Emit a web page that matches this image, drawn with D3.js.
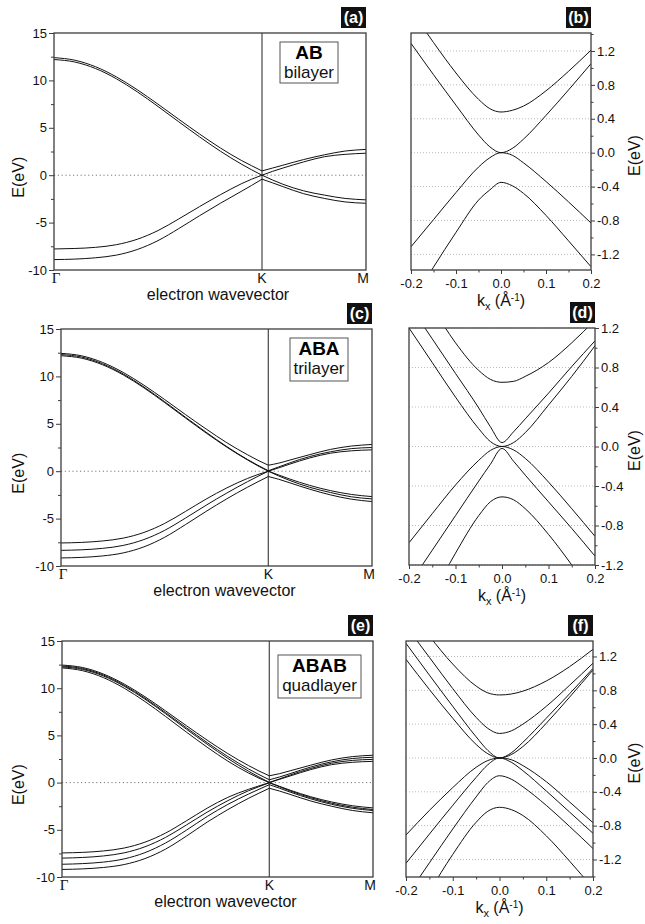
<!DOCTYPE html>
<html><head><meta charset="utf-8">
<script src="https://cdn.jsdelivr.net/npm/d3@7"></script>
<style>body{margin:0;background:#fff}svg{display:block}</style>
</head><body><svg id="c" width="645" height="924"></svg>
<script>
// ---------------- DATA ----------------
// Left panels: path Γ(0) – K(1) – M(1.5)
const tGK = [0, 0.1, 0.2, 0.3, 0.4, 0.5, 0.6, 0.7, 0.8, 0.9, 0.95, 1.0];
const tKM = [1.0, 1.05, 1.1, 1.2, 1.3, 1.4, 1.5];
const pathLabels = ["Γ", "K", "M"];
const pathLabelPos = [0, 1, 1.5];
const energyTicksLeft = [-10, -5, 0, 5, 10, 15];
const energyMinorLeft = [-7.5, -2.5, 2.5, 7.5, 12.5];

// AB bilayer (a)
const abGK = [
  [12.4, 12.13, 11.44, 10.37, 9.02, 7.49, 5.9, 4.34, 2.87, 1.57, 1.0, 0.45],
  [12.2, 11.94, 11.25, 10.17, 8.8, 7.25, 5.63, 4.04, 2.53, 1.18, 0.57, 0.0],
  [-7.78, -7.73, -7.61, -7.33, -6.76, -5.84, -4.61, -3.31, -2.06, -0.91, -0.42, 0.0],
  [-8.9, -8.85, -8.71, -8.43, -7.84, -6.9, -5.63, -4.27, -2.96, -1.71, -1.08, -0.42]
];
const abKM = [
  [0.45, 0.75, 1.05, 1.65, 2.15, 2.55, 2.72],
  [0.0, 0.4, 0.75, 1.4, 1.95, 2.2, 2.32],
  [0.0, -0.5, -0.95, -1.65, -2.1, -2.45, -2.6],
  [-0.42, -0.8, -1.2, -1.95, -2.45, -2.82, -2.96]
];
// ABA trilayer (c)
const abaGK = [
  [12.43, 12.17, 11.48, 10.42, 9.07, 7.56, 5.98, 4.45, 3.0, 1.73, 1.15, 0.63],
  [12.3, 12.04, 11.34, 10.26, 8.88, 7.33, 5.7, 4.11, 2.59, 1.23, 0.62, 0.05],
  [12.18, 11.92, 11.23, 10.16, 8.79, 7.24, 5.62, 4.03, 2.53, 1.18, 0.56, 0.0],
  [-7.57, -7.51, -7.36, -7.06, -6.46, -5.51, -4.25, -2.94, -1.76, -0.76, -0.35, 0.0],
  [-8.35, -8.29, -8.14, -7.83, -7.21, -6.24, -4.95, -3.59, -2.3, -1.1, -0.54, 0.0],
  [-9.15, -9.09, -8.94, -8.62, -7.98, -6.97, -5.64, -4.24, -2.91, -1.68, -1.11, -0.56]
];
const abaKM = [
  [0.63, 0.85, 1.15, 1.75, 2.3, 2.65, 2.82],
  [0.05, 0.45, 0.85, 1.55, 2.05, 2.38, 2.5],
  [0.0, 0.35, 0.72, 1.4, 1.9, 2.15, 2.25],
  [0.0, -0.4, -0.8, -1.5, -2.05, -2.45, -2.68],
  [0.0, -0.5, -0.95, -1.7, -2.25, -2.7, -2.92],
  [-0.56, -0.85, -1.2, -1.9, -2.5, -2.95, -3.2]
];
// ABAB quadlayer (e)
const ababGK = [
  [12.45, 12.19, 11.5, 10.44, 9.1, 7.59, 6.03, 4.5, 3.07, 1.8, 1.23, 0.72],
  [12.35, 12.08, 11.39, 10.31, 8.95, 7.41, 5.81, 4.24, 2.76, 1.44, 0.85, 0.3],
  [12.25, 11.99, 11.29, 10.21, 8.84, 7.29, 5.66, 4.07, 2.56, 1.2, 0.59, 0.02],
  [12.15, 11.85, 11.12, 10.0, 8.59, 7.0, 5.35, 3.75, 2.27, 1.01, 0.47, 0.0],
  [-7.45, -7.39, -7.24, -6.93, -6.31, -5.34, -4.05, -2.71, -1.56, -0.71, -0.35, 0.0],
  [-8.0, -7.93, -7.77, -7.44, -6.8, -5.8, -4.49, -3.13, -1.91, -0.86, -0.43, -0.02],
  [-8.65, -8.58, -8.42, -8.08, -7.42, -6.39, -5.04, -3.59, -2.31, -1.21, -0.71, -0.22],
  [-9.2, -9.14, -8.99, -8.68, -8.05, -7.04, -5.67, -4.19, -2.86, -1.66, -1.12, -0.6]
];
const ababKM = [
  [0.72, 0.95, 1.25, 1.85, 2.4, 2.75, 2.9],
  [0.3, 0.6, 0.95, 1.65, 2.2, 2.55, 2.68],
  [0.02, 0.4, 0.8, 1.5, 2.05, 2.35, 2.46],
  [0.0, 0.35, 0.7, 1.38, 1.9, 2.15, 2.25],
  [0.0, -0.4, -0.8, -1.5, -2.05, -2.45, -2.68],
  [-0.02, -0.45, -0.88, -1.6, -2.18, -2.6, -2.85],
  [-0.22, -0.6, -1.0, -1.72, -2.3, -2.72, -2.96],
  [-0.6, -0.9, -1.25, -1.95, -2.5, -2.95, -3.2]
];

// Right panels: kx around K (Å^-1)
const kGrid = [-0.2, -0.15, -0.1, -0.05, -0.025, 0, 0.025, 0.05, 0.1, 0.15, 0.2];
const kTicks = [-0.2, -0.1, 0, 0.1, 0.2];
const kMinor = [-0.15, -0.05, 0.05, 0.15];
const eTicksRight = [-1.2, -0.8, -0.4, 0, 0.4, 0.8, 1.2];
const eMinorRight = [-1.4, -1.0, -0.6, -0.2, 0.2, 0.6, 1.0, 1.4];

const abZoom = [
  [1.68, 1.30, 0.94, 0.63, 0.52, 0.48, 0.50, 0.55, 0.73, 0.96, 1.21],
  [1.29, 0.92, 0.56, 0.21, 0.07, 0.0, 0.05, 0.16, 0.44, 0.74, 1.05],
  [-1.11, -0.79, -0.47, -0.17, -0.06, 0.0, -0.03, -0.12, -0.34, -0.58, -0.83],
  [-1.78, -1.35, -0.94, -0.56, -0.44, -0.35, -0.39, -0.48, -0.74, -1.04, -1.345]
];
const abaZoom = [
  [1.79, 1.41, 1.05, 0.77, 0.68, 0.65, 0.66, 0.71, 0.85, 1.05, 1.28],
  [1.44, 1.09, 0.74, 0.39, 0.2, 0.04, 0.15, 0.28, 0.54, 0.81, 1.07],
  [1.2, 0.85, 0.5, 0.18, 0.05, 0.0, 0.04, 0.14, 0.42, 0.71, 1.02],
  [-0.975, -0.68, -0.39, -0.14, -0.04, 0.0, -0.035, -0.12, -0.36, -0.63, -0.91],
  [-1.4, -1.05, -0.7, -0.35, -0.18, -0.02, -0.15, -0.29, -0.56, -0.83, -1.11],
  [-1.97, -1.51, -1.08, -0.70, -0.56, -0.51, -0.54, -0.63, -0.89, -1.2, -1.54]
];
const ababZoom = [
  [1.8, 1.44, 1.11, 0.85, 0.77, 0.745, 0.756, 0.79, 0.91, 1.08, 1.285],
  [1.56, 1.19, 0.82, 0.48, 0.35, 0.29, 0.32, 0.40, 0.61, 0.86, 1.12],
  [1.355, 0.98, 0.61, 0.25, 0.09, 0.0, 0.06, 0.185, 0.47, 0.76, 1.06],
  [1.166, 0.81, 0.47, 0.16, 0.05, 0.0, 0.04, 0.135, 0.41, 0.72, 1.04],
  [-0.91, -0.62, -0.35, -0.11, -0.03, 0.0, -0.02, -0.09, -0.28, -0.52, -0.765],
  [-1.245, -0.9, -0.56, -0.23, -0.08, 0.0, -0.05, -0.15, -0.39, -0.64, -0.89],
  [-1.645, -1.24, -0.84, -0.46, -0.29, -0.21, -0.25, -0.34, -0.56, -0.81, -1.07],
  [-2.04, -1.58, -1.14, -0.76, -0.63, -0.583, -0.61, -0.68, -0.92, -1.22, -1.54]
];

// ---------------- LAYOUT ----------------
const SANS = '"Liberation Sans", Arial, sans-serif';
const SERIF = '"Liberation Serif", "Times New Roman", serif';
const AXC = '#3c3c3c';
const svg = d3.select('#c');

function panelTag(letter, xRight, yBottom) {
  const w = 25, h = 21;
  svg.append('rect').attr('x', xRight - w).attr('y', yBottom - h).attr('width', w).attr('height', h).attr('fill', '#111');
  svg.append('text').attr('x', xRight - w / 2).attr('y', yBottom - 5.5).attr('text-anchor', 'middle')
    .attr('font-family', SANS).attr('font-weight', 'bold').attr('font-size', 16).attr('fill', '#fff').text('(' + letter + ')');
}

function styleAxis(g, fs) {
  g.attr('font-family', SANS).attr('font-size', fs);
  g.select('.domain').remove();
  g.selectAll('line').attr('stroke', AXC).attr('stroke-width', 1);
  g.selectAll('text').attr('fill', '#111');
}

function leftPanel(cfg, gk, km) {
  const x = d3.scaleLinear().domain([0, 1.5]).range([cfg.x0, cfg.x1]);
  const y = d3.scaleLinear().domain([-10, 15]).range([cfg.y1, cfg.y0]);
  const clip = 'clip' + cfg.id;
  svg.append('clipPath').attr('id', clip).append('rect')
    .attr('x', cfg.x0).attr('y', cfg.y0).attr('width', cfg.x1 - cfg.x0).attr('height', cfg.y1 - cfg.y0);
  const g = svg.append('g');
  g.append('line').attr('x1', cfg.x0).attr('x2', cfg.x1).attr('y1', y(0)).attr('y2', y(0))
    .attr('stroke', '#777').attr('stroke-width', 1).attr('stroke-dasharray', '1.2,2.6');
  g.append('line').attr('x1', x(1)).attr('x2', x(1)).attr('y1', cfg.y0).attr('y2', cfg.y1)
    .attr('stroke', '#555').attr('stroke-width', 1.3);
  const line = d3.line().x(d => x(d[0])).y(d => y(d[1])).curve(d3.curveMonotoneX);
  const cg = g.append('g').attr('clip-path', 'url(#' + clip + ')');
  gk.forEach(b => cg.append('path').attr('d', line(tGK.map((t, i) => [t, b[i]])))
    .attr('fill', 'none').attr('stroke', '#111').attr('stroke-width', 1));
  km.forEach(b => cg.append('path').attr('d', line(tKM.map((t, i) => [t, b[i]])))
    .attr('fill', 'none').attr('stroke', '#111').attr('stroke-width', 1));
  g.append('rect').attr('x', cfg.x0).attr('y', cfg.y0).attr('width', cfg.x1 - cfg.x0).attr('height', cfg.y1 - cfg.y0)
    .attr('fill', 'none').attr('stroke', AXC).attr('stroke-width', 1.3);
  const ax = g.append('g').attr('transform', `translate(${cfg.x0},0)`)
    .call(d3.axisLeft(y).tickValues(energyTicksLeft).tickSize(5).tickPadding(2).tickFormat(d => String(d)));
  styleAxis(ax, 13);
  const axm = g.append('g').attr('transform', `translate(${cfg.x0},0)`)
    .call(d3.axisLeft(y).tickValues(energyMinorLeft).tickSize(3).tickFormat(''));
  styleAxis(axm, 13);
  pathLabels.forEach((lab, i) => {
    let px = x(pathLabelPos[i]);
    if (i === 0) px += 2;
    if (i === 2) px -= 3;
    g.append('text').attr('x', px).attr('y', cfg.y1 + 12.5).attr('text-anchor', 'middle')
      .attr('font-family', i === 0 ? SERIF : SANS).attr('font-size', i === 0 ? 15 : 14).attr('fill', '#111').text(lab);
  });
  g.append('text').attr('x', (cfg.x0 + cfg.x1) / 2 + 8).attr('y', cfg.y1 + 29.5).attr('text-anchor', 'middle')
    .attr('font-family', SANS).attr('font-size', 16).attr('fill', '#111').text('electron wavevector');
  g.append('text').attr('transform', `translate(24,${y(0) + 2}) rotate(-90)`).attr('text-anchor', 'middle')
    .attr('font-family', SANS).attr('font-size', 16).attr('fill', '#111').text('E(eV)');
  const bx = cfg.box;
  g.append('rect').attr('x', bx.x).attr('y', bx.y).attr('width', bx.w).attr('height', bx.h)
    .attr('fill', '#fff').attr('stroke', '#555').attr('stroke-width', 1);
  g.append('text').attr('x', bx.x + bx.w / 2).attr('y', bx.y + 17).attr('text-anchor', 'middle')
    .attr('font-family', SANS).attr('font-weight', 'bold').attr('font-size', 19).attr('fill', '#000').text(cfg.stack);
  g.append('text').attr('x', bx.x + bx.w / 2).attr('y', bx.y + 35.5).attr('text-anchor', 'middle')
    .attr('font-family', SANS).attr('font-size', 17).attr('fill', '#111').text(cfg.name);
  panelTag(cfg.id, cfg.x1, cfg.y0 - 5);
}

function rightPanel(cfg, bands) {
  const x = d3.scaleLinear().domain([-0.2, 0.2]).range([cfg.x0, cfg.x1]);
  const y = d3.scaleLinear().domain(cfg.ydom).range([cfg.y1, cfg.y0]);
  const clip = 'clip' + cfg.id;
  svg.append('clipPath').attr('id', clip).append('rect')
    .attr('x', cfg.x0).attr('y', cfg.y0).attr('width', cfg.x1 - cfg.x0).attr('height', cfg.y1 - cfg.y0);
  const g = svg.append('g');
  eTicksRight.forEach(v => {
    g.append('line').attr('x1', cfg.x0).attr('x2', cfg.x1).attr('y1', y(v)).attr('y2', y(v))
      .attr('stroke', '#bbb').attr('stroke-width', 1).attr('stroke-dasharray', '1,2');
  });
  const line = d3.line().x(d => x(d[0])).y(d => y(d[1])).curve(d3.curveMonotoneX);
  const cg = g.append('g').attr('clip-path', 'url(#' + clip + ')');
  bands.forEach(b => cg.append('path').attr('d', line(kGrid.map((k, i) => [k, b[i]])))
    .attr('fill', 'none').attr('stroke', '#111').attr('stroke-width', 1));
  g.append('rect').attr('x', cfg.x0).attr('y', cfg.y0).attr('width', cfg.x1 - cfg.x0).attr('height', cfg.y1 - cfg.y0)
    .attr('fill', 'none').attr('stroke', AXC).attr('stroke-width', 1.3);
  const inDom = v => v >= Math.min(...cfg.ydom) - 1e-9 && v <= Math.max(...cfg.ydom) + 1e-9;
  const ay = g.append('g').attr('transform', `translate(${cfg.x1},0)`)
    .call(d3.axisRight(y).tickValues(eTicksRight.filter(inDom)).tickSize(4).tickPadding(2).tickFormat(d => d.toFixed(1)));
  styleAxis(ay, 13);
  const aym = g.append('g').attr('transform', `translate(${cfg.x1},0)`)
    .call(d3.axisRight(y).tickValues(eMinorRight.filter(inDom)).tickSize(2.5).tickFormat(''));
  styleAxis(aym, 13);
  const axb = g.append('g').attr('transform', `translate(0,${cfg.y1})`)
    .call(d3.axisBottom(x).tickValues(kTicks).tickSize(4).tickPadding(5).tickFormat(d => d.toFixed(1)));
  styleAxis(axb, 13);
  const axbm = g.append('g').attr('transform', `translate(0,${cfg.y1})`)
    .call(d3.axisBottom(x).tickValues(kMinor).tickSize(2.5).tickFormat(''));
  styleAxis(axbm, 13);
  const t = g.append('text').attr('x', (cfg.x0 + cfg.x1) / 2).attr('y', cfg.y1 + 36).attr('text-anchor', 'middle')
    .attr('font-family', SANS).attr('font-size', 16).attr('fill', '#111');
  t.append('tspan').text('k');
  t.append('tspan').attr('font-size', 11).attr('dy', 4).text('x');
  t.append('tspan').attr('dy', -4).text(' (Å');
  t.append('tspan').attr('font-size', 10).attr('dy', -5).text('-1');
  t.append('tspan').attr('dy', 5).text(')');
  g.append('text').attr('transform', `translate(640,${(cfg.y0 + cfg.y1) / 2 + 4}) rotate(-90)`).attr('text-anchor', 'middle')
    .attr('font-family', SANS).attr('font-size', 16).attr('fill', '#111').text('E(eV)');
  panelTag(cfg.id, cfg.x1, cfg.y0 - 5);
}

leftPanel({id: 'a', x0: 54, x1: 366, y0: 33, y1: 270, stack: 'AB', name: 'bilayer',
  box: {x: 280, y: 42, w: 58, h: 41}}, abGK, abKM);
leftPanel({id: 'c', x0: 61, x1: 372, y0: 329, y1: 566, stack: 'ABA', name: 'trilayer',
  box: {x: 290, y: 338, w: 58, h: 43}}, abaGK, abaKM);
leftPanel({id: 'e', x0: 62, x1: 373, y0: 641, y1: 877, stack: 'ABAB', name: 'quadlayer',
  box: {x: 278, y: 655, w: 83, h: 43}}, ababGK, ababKM);

rightPanel({id: 'b', x0: 411, x1: 591, y0: 33, y1: 270, ydom: [-1.384, 1.412]}, abZoom);
rightPanel({id: 'd', x0: 409, x1: 595, y0: 328, y1: 565, ydom: [-1.2, 1.2]}, abaZoom);
rightPanel({id: 'f', x0: 406, x1: 593, y0: 641, y1: 877, ydom: [-1.407, 1.383]}, ababZoom);
</script></body></html>
